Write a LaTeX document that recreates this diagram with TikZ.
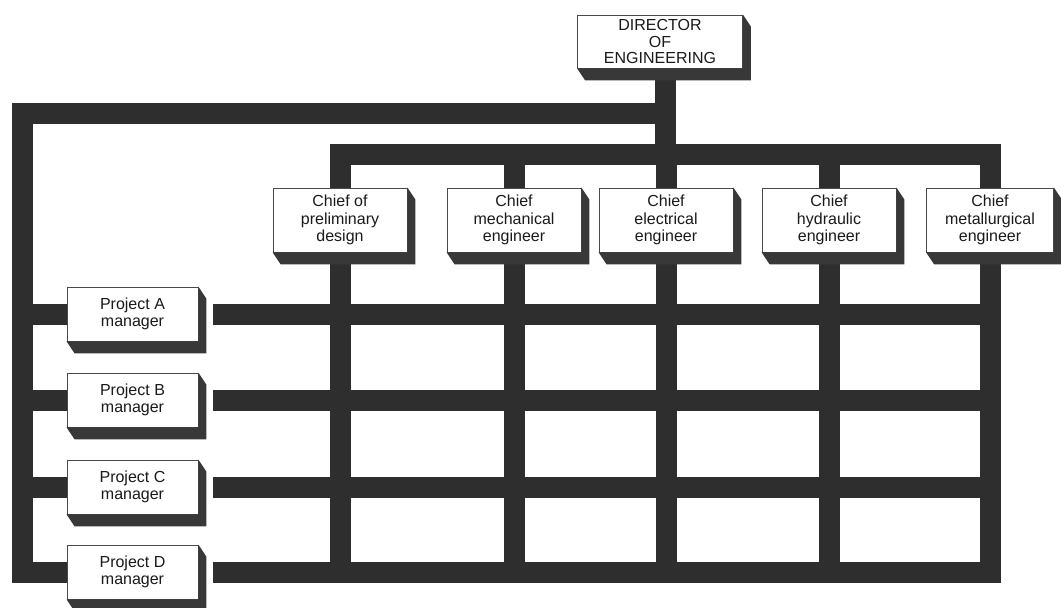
\documentclass[tikz,border=0pt]{standalone}
\usepackage{fontspec}
\setmainfont{Liberation Sans}
\usetikzlibrary{calc}
\pgfdeclarelayer{bars}
\pgfsetlayers{bars,main}
\definecolor{barink}{HTML}{2E2E2E}
\definecolor{shadeink}{HTML}{383838}
\definecolor{boxline}{HTML}{4A4A4A}
\definecolor{txt}{HTML}{1A1A1A}

\tikzset{
  unitbox/.style={draw=boxline, line width=0.8pt, fill=white, align=center,
    text=txt, font=\fontsize{16}{17.5}\selectfont, inner sep=0pt},
  chiefbox/.style={unitbox, minimum width=134pt, minimum height=64pt},
  projbox/.style={unitbox, minimum width=131pt, minimum height=54pt},
  topbox/.style={unitbox, minimum width=165pt, minimum height=53pt,
    font=\fontsize{16}{16.5}\selectfont},
  bar/.style={draw=barink, line width=21pt, line join=miter, line cap=butt},
}

% extruded edge below and to the right of a box
\newcommand\dropshade[1]{%
  \fill[shadeink] (#1.north east) -- ($(#1.north east)+(8,12)$)
    -- ($(#1.south east)+(8,12)$) -- ($(#1.south west)+(8,12)$)
    -- (#1.south west) -- (#1.south east) -- cycle;}

\begin{document}
\begin{tikzpicture}[x=1pt,y=-1pt]
\useasboundingbox (0,0) rectangle (1061,608);

% boxes
\node[topbox] (dir) at (660,41.5) {DIRECTOR\\OF\\ENGINEERING};

\node[chiefbox] (c1) at (340,220) {Chief of\\preliminary\\design};
\node[chiefbox] (c2) at (514,220) {Chief\\mechanical\\engineer};
\node[chiefbox] (c3) at (666,220) {Chief\\electrical\\engineer};
\node[chiefbox] (c4) at (829,220) {Chief\\hydraulic\\engineer};
\node[chiefbox, minimum width=127pt] (c5) at (990,220) {Chief\\metallurgical\\engineer};

\node[projbox] (pA) at (132.5,314) {Project A\\manager};
\node[projbox] (pB) at (132.5,400) {Project B\\manager};
\node[projbox] (pC) at (132.5,487) {Project C\\manager};
\node[projbox] (pD) at (132.5,572) {Project D\\manager};

\foreach \n in {dir,c1,c2,c3,c4,c5,pA,pB,pC,pD} {\dropshade{\n}}

% connecting bars behind the boxes
\begin{pgfonlayer}{bars}
  \fill[white] (0,0) rectangle (1061,608);
  \coordinate (stemtop) at ([xshift=5pt]dir.south);
  \coordinate (cbar) at (0,154);
  \coordinate (tbar) at (22,113);

  % director stem down to the chiefs' bar
  \draw[bar] (stemtop) -- (stemtop |- cbar);

  % chiefs' bar with drops to each chief
  \draw[bar] (c1.north) -- (c1.north |- cbar) -- (c5.north |- cbar) -- (c5.north);
  \foreach \n in {c2,c3,c4} {\draw[bar] (\n.north) -- (\n.north |- cbar);}

  % line to the project managers
  \draw[bar] (stemtop |- tbar) -- (tbar) -- (tbar |- pD.west) -- (pD.west);
  \foreach \p in {pA,pB,pC} {\draw[bar] (tbar |- \p.west) -- (\p.west);}

  % matrix grid
  \foreach \c in {c1,c2,c3,c4} {\draw[bar] (\c.south) -- (\c.south |- pD.east);}
  \foreach \p in {pA,pB,pC} {\draw[bar] ([xshift=15pt]\p.east) -- (c5.south |- \p.east);}
  \draw[bar] ([xshift=15pt]pD.east) -- (c5.south |- pD.east) -- (c5.south);
\end{pgfonlayer}
\end{tikzpicture}
\end{document}
